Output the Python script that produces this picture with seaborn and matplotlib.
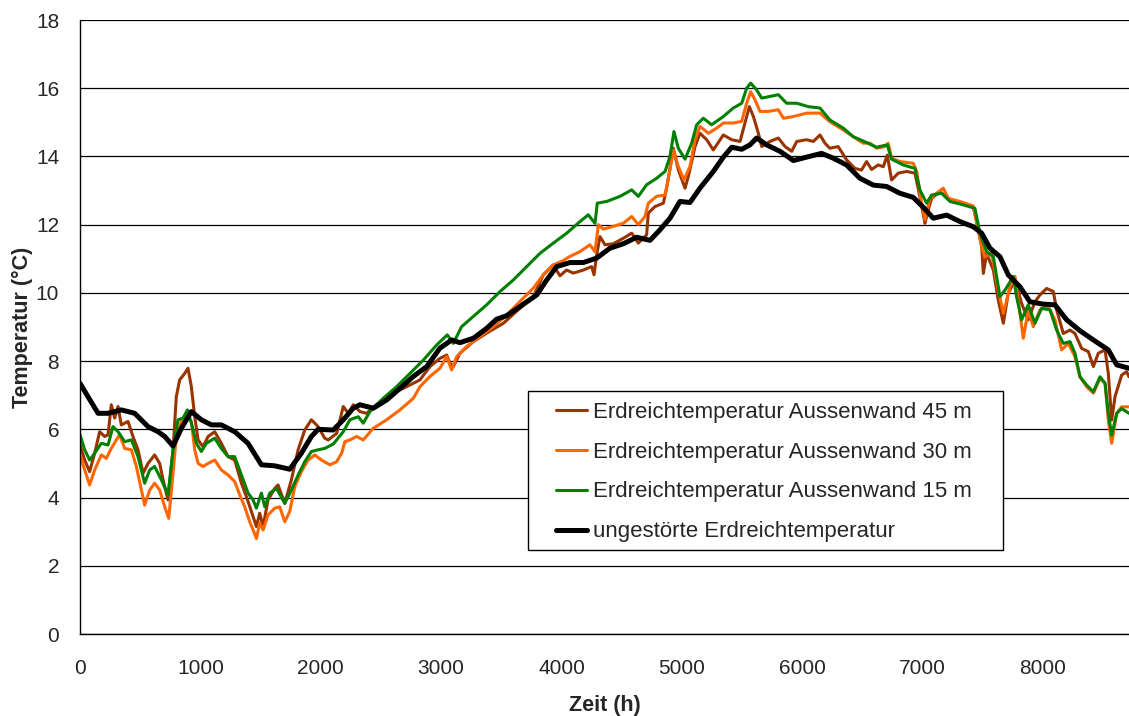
import matplotlib
matplotlib.use("Agg")
import matplotlib.pyplot as plt
import pandas as pd
import seaborn as sns
from matplotlib.patches import Rectangle

# Hourly ground temperatures over one year (°C), sampled at characteristic points
h_45 = [0, 39, 80, 122, 163, 205, 233, 260, 288, 316, 343, 399, 440, 482, 524, 565, 620, 662, 690, 731,
        773, 800, 828, 870, 897, 925, 953, 981, 1022, 1064, 1119, 1174, 1230, 1285, 1341, 1382, 1424, 1465,
        1493, 1521, 1562, 1618, 1645, 1701, 1756, 1812, 1867, 1922, 1978, 2033, 2062, 2132, 2187, 2228,
        2270, 2325, 2381, 2492, 2602, 2713, 2824, 2907, 2990, 3046, 3073, 3101, 3156, 3267, 3378, 3517,
        3655, 3766, 3849, 3932, 3987, 4042, 4098, 4181, 4250, 4270, 4292, 4319, 4361, 4430, 4513, 4583,
        4638, 4707, 4721, 4776, 4846, 4873, 4929, 4970, 5026, 5053, 5109, 5150, 5206, 5261, 5344, 5414,
        5483, 5524, 5560, 5594, 5635, 5663, 5732, 5801, 5857, 5912, 5954, 6036, 6092, 6147, 6188, 6229,
        6298, 6368, 6437, 6492, 6534, 6576, 6631, 6673, 6706, 6742, 6797, 6866, 6936, 6977, 7019, 7046,
        7074, 7143, 7213, 7310, 7420, 7462, 7490, 7504, 7531, 7587, 7628, 7670, 7711, 7767, 7822, 7877,
        7933, 7974, 8030, 8085, 8113, 8168, 8224, 8265, 8321, 8376, 8418, 8459, 8515, 8542, 8570, 8598,
        8653, 8694, 8714]
t_45 = [5.54, 5.10, 4.76, 5.30, 5.93, 5.79, 5.84, 6.72, 6.33, 6.67, 6.13, 6.23, 5.79, 5.40, 4.71, 5.00,
        5.25, 5.00, 4.52, 3.93, 5.40, 6.96, 7.45, 7.64, 7.79, 7.25, 6.37, 5.69, 5.49, 5.79, 5.93, 5.59,
        5.20, 5.10, 4.42, 4.03, 3.59, 3.15, 3.54, 3.15, 3.93, 4.27, 4.37, 3.83, 4.52, 5.40, 5.98, 6.28,
        6.08, 5.74, 5.69, 5.88, 6.67, 6.47, 6.72, 6.52, 6.47, 6.81, 7.06, 7.25, 7.45, 7.84, 8.08, 8.18,
        7.94, 7.84, 8.23, 8.57, 8.82, 9.11, 9.55, 9.89, 10.53, 10.82, 10.50, 10.67, 10.58, 10.67, 10.77,
        10.53, 11.11, 11.65, 11.41, 11.44, 11.60, 11.75, 11.46, 11.70, 12.34, 12.53, 12.63, 13.07, 14.24,
        13.61, 13.07, 13.41, 14.29, 14.68, 14.49, 14.19, 14.63, 14.49, 14.44, 14.98, 15.46, 15.17, 14.68,
        14.29, 14.44, 14.54, 14.29, 14.15, 14.44, 14.49, 14.44, 14.63, 14.39, 14.24, 14.29, 13.90, 13.65,
        13.60, 13.85, 13.62, 13.75, 13.70, 14.04, 13.31, 13.51, 13.56, 13.51, 12.82, 12.04, 12.43, 12.77,
        12.97, 12.77, 12.63, 12.53, 11.85, 11.36, 10.57, 11.16, 10.67, 9.79, 9.11, 9.99, 10.38, 9.69, 9.21,
        9.74, 9.94, 10.13, 10.04, 9.50, 8.81, 8.91, 8.81, 8.37, 8.28, 7.84, 8.23, 8.33, 7.64, 6.27, 6.96,
        7.59, 7.69, 7.54]

h_30 = [0, 39, 80, 122, 177, 219, 260, 302, 330, 371, 427, 468, 510, 537, 579, 620, 662, 704, 737, 773,
        800, 842, 884, 925, 953, 981, 1022, 1064, 1119, 1174, 1230, 1285, 1327, 1368, 1410, 1438, 1465,
        1493, 1521, 1562, 1618, 1659, 1701, 1742, 1784, 1839, 1895, 1950, 2006, 2076, 2132, 2173, 2201,
        2242, 2298, 2353, 2436, 2547, 2658, 2769, 2824, 2907, 2990, 3046, 3087, 3129, 3212, 3323, 3433,
        3544, 3655, 3766, 3849, 3932, 4015, 4070, 4153, 4236, 4278, 4306, 4347, 4430, 4513, 4583, 4638,
        4693, 4721, 4790, 4860, 4901, 4929, 4970, 5017, 5067, 5109, 5150, 5220, 5289, 5344, 5427, 5497,
        5538, 5571, 5607, 5649, 5718, 5801, 5843, 5926, 6036, 6147, 6229, 6340, 6423, 6506, 6562, 6617,
        6686, 6714, 6742, 6811, 6922, 6950, 6991, 7019, 7060, 7116, 7171, 7213, 7310, 7420, 7462, 7490,
        7517, 7573, 7628, 7670, 7725, 7767, 7808, 7836, 7877, 7919, 7974, 8044, 8099, 8154, 8210, 8265,
        8307, 8362, 8418, 8473, 8515, 8542, 8570, 8612, 8653, 8714]
t_30 = [5.25, 4.81, 4.37, 4.81, 5.25, 5.15, 5.44, 5.69, 5.84, 5.44, 5.40, 4.91, 4.22, 3.78, 4.22, 4.42,
        4.22, 3.73, 3.39, 4.71, 5.79, 6.23, 6.42, 6.23, 5.40, 5.00, 4.91, 5.00, 5.10, 4.81, 4.66, 4.47,
        4.08, 3.73, 3.29, 3.05, 2.80, 3.25, 3.05, 3.49, 3.69, 3.73, 3.29, 3.59, 4.32, 4.76, 5.10, 5.25,
        5.10, 4.96, 5.05, 5.30, 5.64, 5.69, 5.79, 5.69, 6.03, 6.28, 6.57, 6.91, 7.25, 7.55, 7.79, 8.13,
        7.74, 8.13, 8.43, 8.72, 9.01, 9.35, 9.75, 10.14, 10.53, 10.82, 10.95, 11.07, 11.21, 11.41, 11.21,
        12.00, 11.87, 11.95, 12.04, 12.24, 12.00, 12.24, 12.63, 12.83, 12.87, 13.61, 14.19, 13.71, 13.31,
        13.71, 14.49, 14.88, 14.68, 14.83, 14.98, 14.98, 15.03, 15.56, 15.90, 15.66, 15.32, 15.32, 15.37,
        15.12, 15.17, 15.27, 15.27, 15.02, 14.78, 14.58, 14.39, 14.39, 14.24, 14.29, 14.39, 13.95, 13.85,
        13.80, 13.56, 12.63, 12.14, 12.77, 12.92, 13.07, 12.77, 12.68, 12.55, 11.85, 11.36, 11.06, 11.16,
        10.08, 9.40, 10.18, 10.48, 9.40, 8.67, 9.50, 9.01, 9.50, 9.60, 9.21, 8.33, 8.52, 8.13, 7.54, 7.25,
        7.06, 7.49, 7.35, 6.27, 5.59, 6.47, 6.66, 6.66]

h_15 = [0, 39, 80, 122, 177, 233, 274, 316, 371, 427, 482, 537, 579, 620, 676, 731, 773, 814, 856, 892,
        925, 967, 1008, 1050, 1119, 1174, 1230, 1285, 1341, 1396, 1438, 1465, 1507, 1535, 1576, 1632,
        1701, 1756, 1812, 1867, 1922, 1978, 2033, 2104, 2187, 2242, 2312, 2353, 2408, 2519, 2630, 2741,
        2852, 2962, 3051, 3101, 3170, 3267, 3378, 3489, 3600, 3710, 3821, 3932, 4043, 4153, 4222, 4278,
        4297, 4375, 4486, 4583, 4638, 4707, 4790, 4860, 4901, 4934, 4970, 5026, 5081, 5123, 5178, 5247,
        5344, 5427, 5497, 5538, 5571, 5621, 5663, 5732, 5801, 5870, 5954, 6050, 6147, 6229, 6340, 6423,
        6520, 6617, 6706, 6742, 6839, 6936, 6977, 7033, 7074, 7157, 7227, 7337, 7434, 7476, 7531, 7587,
        7642, 7684, 7753, 7780, 7822, 7877, 7933, 7988, 8058, 8113, 8168, 8224, 8265, 8307, 8362, 8418,
        8473, 8515, 8542, 8570, 8612, 8653, 8714]
t_15 = [5.84, 5.40, 5.10, 5.30, 5.59, 5.54, 6.08, 5.93, 5.64, 5.69, 5.20, 4.42, 4.81, 4.91, 4.52, 4.08,
        5.40, 6.28, 6.33, 6.57, 6.18, 5.59, 5.35, 5.59, 5.74, 5.44, 5.20, 5.20, 4.66, 4.13, 3.93, 3.69,
        4.13, 3.73, 4.13, 4.27, 3.83, 4.22, 4.66, 5.05, 5.35, 5.40, 5.44, 5.57, 5.93, 6.28, 6.37, 6.18,
        6.52, 6.91, 7.25, 7.64, 8.03, 8.47, 8.77, 8.52, 9.01, 9.31, 9.65, 10.04, 10.38, 10.77, 11.16,
        11.46, 11.75, 12.09, 12.29, 12.04, 12.63, 12.68, 12.83, 13.02, 12.83, 13.17, 13.36, 13.56, 14.00,
        14.73, 14.24, 13.92, 14.39, 14.93, 15.12, 14.93, 15.17, 15.42, 15.56, 16.00, 16.15, 15.95, 15.71,
        15.76, 15.81, 15.56, 15.56, 15.46, 15.42, 15.07, 14.83, 14.58, 14.43, 14.27, 14.34, 13.92, 13.75,
        13.65, 13.02, 12.63, 12.87, 12.92, 12.68, 12.58, 12.48, 11.75, 11.21, 11.06, 9.89, 10.08, 10.48,
        9.89, 9.21, 9.65, 9.11, 9.55, 9.50, 8.91, 8.52, 8.57, 8.23, 7.54, 7.30, 7.10, 7.54, 7.35, 6.47,
        5.83, 6.47, 6.61, 6.47]

h_ref = [0, 66, 150, 233, 343, 454, 565, 648, 704, 773, 842, 925, 1008, 1091, 1174, 1285, 1396, 1507,
         1618, 1742, 1839, 1922, 1978, 2104, 2187, 2270, 2325, 2436, 2547, 2658, 2769, 2880, 2990, 3087,
         3156, 3267, 3378, 3461, 3544, 3655, 3794, 3877, 3960, 4071, 4181, 4292, 4402, 4513, 4624, 4735,
         4818, 4901, 4984, 5067, 5150, 5261, 5344, 5414, 5497, 5566, 5621, 5704, 5815, 5926, 6036, 6160,
         6257, 6368, 6479, 6590, 6700, 6811, 6922, 7005, 7088, 7199, 7310, 7420, 7490, 7559, 7642, 7711,
         7808, 7891, 8002, 8099, 8196, 8307, 8418, 8542, 8612, 8714]
t_ref = [7.35, 6.96, 6.47, 6.47, 6.57, 6.47, 6.08, 5.93, 5.79, 5.51, 6.03, 6.52, 6.28, 6.13, 6.13, 5.93,
         5.59, 4.96, 4.93, 4.83, 5.30, 5.79, 6.00, 5.98, 6.28, 6.62, 6.72, 6.62, 6.86, 7.20, 7.55, 7.84,
         8.38, 8.62, 8.54, 8.67, 8.96, 9.23, 9.33, 9.60, 9.94, 10.38, 10.77, 10.89, 10.89, 11.02, 11.31,
         11.44, 11.63, 11.54, 11.85, 12.19, 12.68, 12.65, 13.07, 13.56, 13.98, 14.27, 14.21, 14.34, 14.54,
         14.34, 14.15, 13.88, 13.98, 14.09, 13.95, 13.75, 13.36, 13.16, 13.12, 12.92, 12.80, 12.51, 12.19,
         12.28, 12.09, 11.94, 11.75, 11.31, 11.06, 10.53, 10.18, 9.74, 9.67, 9.65, 9.21, 8.89, 8.62, 8.33,
         7.89, 7.79]

labels = ["Erdreichtemperatur Aussenwand 45 m",
          "Erdreichtemperatur Aussenwand 30 m",
          "Erdreichtemperatur Aussenwand 15 m",
          "ungestörte Erdreichtemperatur"]
colors = ["#993300", "#FF6600", "#008000", "#000000"]
widths = [2.2, 2.2, 2.2, 3.6]
x_ticks = [0, 1000, 2000, 3000, 4000, 5000, 6000, 7000, 8000]
y_ticks = [0, 2, 4, 6, 8, 10, 12, 14, 16, 18]

sns.set_style("white")
plt.rcParams["font.family"] = ["Liberation Sans", "DejaVu Sans"]

fig = plt.figure(figsize=(11.29, 7.16), dpi=100)
ax = fig.add_axes([80 / 1129, 82 / 716, 1049 / 1129, 614 / 716])

series = [(h_45, t_45), (h_30, t_30), (h_15, t_15), (h_ref, t_ref)]
for (hx, ty), lab, col, lw in zip(series, labels, colors, widths):
    df = pd.DataFrame({"Zeit": hx, "Temperatur": ty})
    sns.lineplot(data=df, x="Zeit", y="Temperatur", ax=ax, color=col, linewidth=lw,
                 label=lab, estimator=None, sort=False)

ax.set_xlim(0, 8714)
ax.set_ylim(0, 18)
ax.set_xticks(x_ticks)
ax.set_yticks(y_ticks)
ax.yaxis.grid(True, color="black", linewidth=0.9)
ax.xaxis.grid(False)
ax.set_axisbelow(True)
for side in ("top", "right"):
    ax.spines[side].set_visible(False)
for side in ("left", "bottom"):
    ax.spines[side].set_color("black")
    ax.spines[side].set_linewidth(1.0)
ax.tick_params(axis="x", direction="out", length=6, width=1, color="black", pad=12, labelsize=15)
ax.tick_params(axis="y", direction="out", length=6, width=1, color="black", pad=9, labelsize=15)

ax.set_xlabel("Zeit (h)", fontsize=15.5, fontweight="bold", labelpad=12)
ax.set_ylabel("Temperatur (°C)", fontsize=15.5, fontweight="bold", labelpad=2)

# legend, with its white box drawn separately for wider side margins
leg = ax.legend(loc="center left", bbox_to_anchor=(476 / 1049, 162 / 614), frameon=False,
                fontsize=16, handlelength=1.4, handletextpad=0.25, labelspacing=0.85,
                borderpad=0, borderaxespad=0)
leg.set_zorder(5)
for line, lw in zip(leg.get_lines(), widths):
    line.set_linewidth(lw)
box = Rectangle((448 / 1049, 84 / 614), 475 / 1049, 159 / 614, transform=ax.transAxes,
                facecolor="white", edgecolor="black", linewidth=1.0, zorder=4)
ax.add_patch(box)

fig.savefig("out.png", dpi=100)
